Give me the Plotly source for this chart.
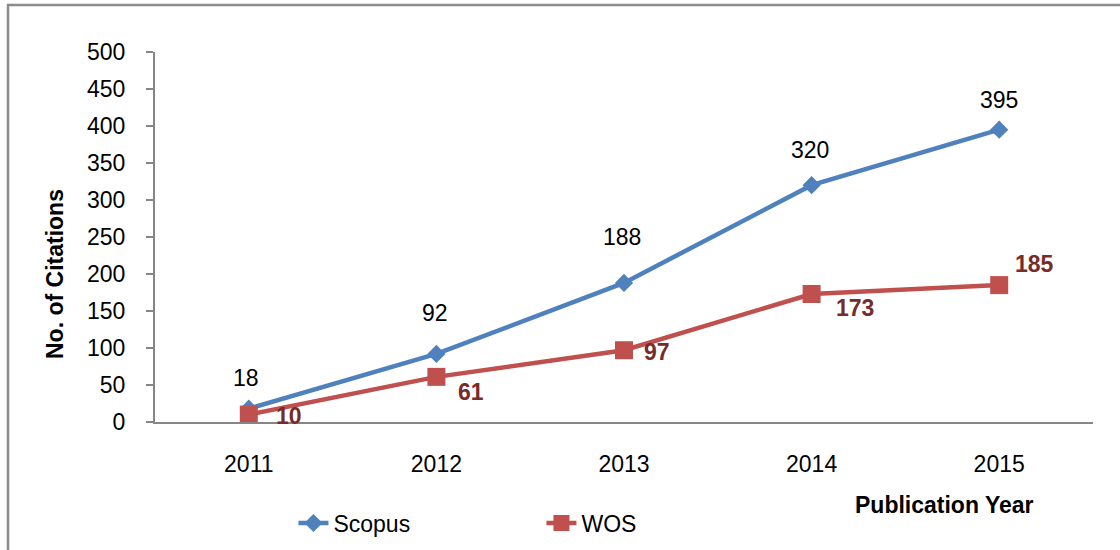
import plotly.graph_objects as go

years = ["2011", "2012", "2013", "2014", "2015"]
scopus = [18, 92, 188, 320, 395]
wos = [10, 61, 97, 173, 185]
y_ticks = [0, 50, 100, 150, 200, 250, 300, 350, 400, 450, 500]

# label offsets (pixels) as placed in the reference
scopus_shift = [(-3, 31), (-1, 41), (-2, 46), (-2, 35), (0, 30)]
wos_shift = [(40, -1), (35, -15), (33, -2), (43, -14), (35, 21)]

FONT = "Liberation Sans, Arial, sans-serif"
FS = 23
BLUE = "#4F81BD"
RED = "#C0504D"
AXIS = "#868686"

fig = go.Figure()
fig.add_trace(go.Scatter(
    x=years, y=scopus, name="Scopus", mode="lines+markers",
    line=dict(color=BLUE, width=4.5),
    marker=dict(symbol="diamond", size=14, color=BLUE),
))
fig.add_trace(go.Scatter(
    x=years, y=wos, name="WOS", mode="lines+markers",
    line=dict(color=RED, width=4.5),
    marker=dict(symbol="square", size=18, color=RED),
))

annotations = []
for i, (v, (dx, dy)) in enumerate(zip(scopus, scopus_shift)):
    annotations.append(dict(x=i, y=v, xref="x", yref="y", text=str(v), showarrow=False,
                            xshift=dx, yshift=dy, font=dict(family=FONT, size=FS, color="#000000")))
for i, (v, (dx, dy)) in enumerate(zip(wos, wos_shift)):
    annotations.append(dict(x=i, y=v, xref="x", yref="y", text="<b>%d</b>" % v, showarrow=False,
                            xshift=dx, yshift=dy, font=dict(family=FONT, size=FS, color="#772C2A")))
annotations.append(dict(x=-0.1066, y=0.40, xref="paper", yref="paper", text="<b>No. of Citations</b>",
                        textangle=-90, showarrow=False, xanchor="center", yanchor="middle",
                        font=dict(family=FONT, size=FS, color="#000000")))
annotations.append(dict(x=0.842, y=-0.224, xref="paper", yref="paper", text="<b>Publication Year</b>",
                        showarrow=False, xanchor="center", yanchor="middle",
                        font=dict(family=FONT, size=FS, color="#000000")))

fig.update_layout(
    width=1120, height=550,
    margin=dict(l=155, r=27, t=52, b=128, autoexpand=False),
    paper_bgcolor="white", plot_bgcolor="white",
    font=dict(family=FONT, size=FS, color="#000000"),
    showlegend=True,
    legend=dict(orientation="h", xref="container", yref="container", x=0.262, y=0.049,
                xanchor="left", yanchor="middle",
                entrywidth=203, entrywidthmode="pixels",
                font=dict(family=FONT, size=FS, color="#000000"), bgcolor="rgba(0,0,0,0)"),
    annotations=annotations,
    shapes=[dict(type="rect", xref="paper", yref="paper", x0=-0.1567, x1=1.2, y0=-0.6, y1=1.127,
                 line=dict(color="#8C8C8C", width=2.5), fillcolor="rgba(0,0,0,0)", layer="below")],
)
fig.update_xaxes(type="category", range=[-0.5, 4.5], showline=True, linecolor=AXIS, linewidth=2,
                 ticks="", showgrid=False, zeroline=False, ticklabelstandoff=20, automargin=False,
                 tickfont=dict(family=FONT, size=FS, color="#000000"))
fig.update_yaxes(range=[0, 500], tickvals=y_ticks, showline=True, linecolor=AXIS, linewidth=2,
                 ticks="outside", ticklen=7, tickcolor=AXIS, tickwidth=2, showgrid=False, zeroline=False,
                 ticklabelstandoff=16, automargin=False, tickfont=dict(family=FONT, size=FS, color="#000000"))

fig.write_html("out.html", config={"displayModeBar": False},
               post_script="document.body.style.margin='0';document.body.style.overflow='hidden';")
